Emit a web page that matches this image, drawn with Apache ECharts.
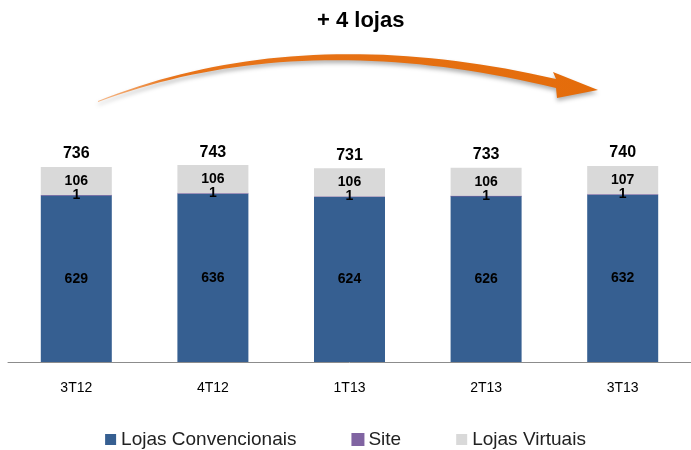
<!DOCTYPE html>
<html>
<head>
<meta charset="UTF-8">
<script src="https://cdn.jsdelivr.net/npm/echarts@6/dist/echarts.min.js"></script>
<style>
  * { margin: 0; padding: 0; }
  body { background: #fff; }
  #chart { width: 691px; height: 450px; }
</style>
</head>
<body>
<div id="chart"></div>
<script>
const quarters = ['3T12', '4T12', '1T13', '2T13', '3T13'];
const convencionais = [629, 636, 624, 626, 632];
const site = [1, 1, 1, 1, 1];
const virtuais = [106, 106, 106, 106, 107];
const totals = [736, 743, 731, 733, 740];

const font = '"Liberation Sans", Arial, sans-serif';
const inLabel = { show: true, position: 'inside', color: '#000', fontWeight: 'bold', fontSize: 14, fontFamily: font };

// decorative curved arrow outline (quadratic curves sampled into a polygon)
function quad(p0, p1, p2, n) {
  const pts = [];
  for (let i = 0; i <= n; i++) {
    const t = i / n, u = 1 - t;
    pts.push([u * u * p0[0] + 2 * u * t * p1[0] + t * t * p2[0], u * u * p0[1] + 2 * u * t * p1[1] + t * t * p2[1]]);
  }
  return pts;
}
const arrowPts = quad([98, 101], [300, 20], [556, 79], 40)
  .concat([[553, 72], [598, 90], [557, 98]])
  .concat(quad([556, 88], [300, 26], [98, 102], 40));

const chart = echarts.init(document.getElementById('chart'));
chart.setOption({
  animation: false,
  title: {
    text: '+ 4 lojas', left: 312, top: 5,
    textStyle: { fontSize: 22, fontWeight: 'bold', color: '#000', fontFamily: font }
  },
  legend: {
    data: ['Lojas Convencionais', 'Site', 'Lojas Virtuais'],
    bottom: -4, left: 'center', icon: 'rect', itemWidth: 11, itemHeight: 11, itemGap: 55,
    textStyle: { fontSize: 19, color: '#222', fontFamily: font }
  },
  grid: { left: 8, width: 690, top: 97, bottom: 88 },
  xAxis: {
    type: 'category', data: quarters, offset: 2,
    axisLine: { lineStyle: { color: '#8c8c8c' } },
    axisTick: { length: 4, lineStyle: { color: '#8c8c8c' } },
    axisLabel: { color: '#000', fontSize: 14, margin: 17, fontFamily: font }
  },
  yAxis: { type: 'value', min: 0, max: 1000, show: false, splitLine: { show: false } },
  series: [
    { name: 'Lojas Convencionais', type: 'bar', stack: 'a', barWidth: 71, data: convencionais,
      itemStyle: { color: '#365F91' }, label: inLabel },
    { name: 'Site', type: 'bar', stack: 'a', data: site,
      itemStyle: { color: '#8064A2', borderColor: '#8064A2', borderWidth: 0.6 }, label: inLabel },
    { name: 'Lojas Virtuais', type: 'bar', stack: 'a', data: virtuais,
      itemStyle: { color: '#D9D9D9' }, label: inLabel },
    { name: 'Total', type: 'bar', stack: 'a', data: totals.map(() => 0),
      itemStyle: { color: 'transparent' },
      label: { show: true, position: 'top', distance: 5, color: '#000', fontWeight: 'bold', fontSize: 16, fontFamily: font,
        formatter: p => totals[p.dataIndex] } }
  ],
  graphic: [{
    type: 'polygon',
    shape: { points: arrowPts },
    style: {
      fill: { type: 'linear', x: 0, y: 0, x2: 1, y2: 0, colorStops: [
        { offset: 0, color: '#F6B98A' }, { offset: 0.15, color: '#E8741A' }, { offset: 1, color: '#E46C0A' }
      ] },
      shadowBlur: 4, shadowColor: 'rgba(0,0,0,0.3)', shadowOffsetY: 3
    }
  }]
});
</script>
</body>
</html>
